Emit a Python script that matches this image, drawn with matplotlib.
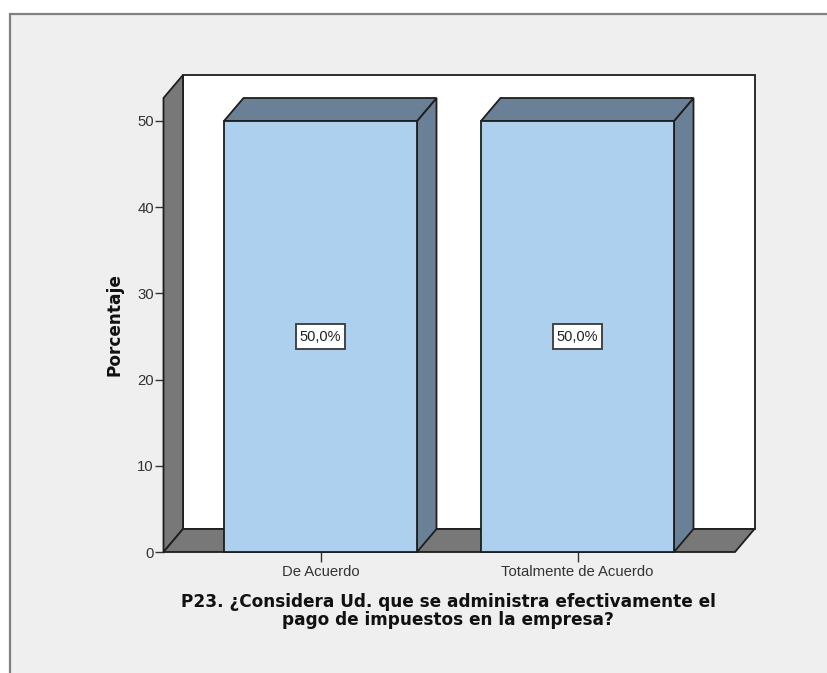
import matplotlib
matplotlib.use("Agg")
import matplotlib.pyplot as plt
from matplotlib.patches import Polygon, Rectangle

categories = ["De Acuerdo", "Totalmente de Acuerdo"]
percentages = [50.0, 50.0]
value_labels = ["50,0%", "50,0%"]
y_ticks = [0, 10, 20, 30, 40, 50]
x_title = "P23. ¿Considera Ud. que se administra efectivamente el\npago de impuestos en la empresa?"
y_title = "Porcentaje"

W, H = 827, 673
plt.rcParams["font.family"] = ["Liberation Sans", "DejaVu Sans"]
fig = plt.figure(figsize=(W / 100, H / 100), dpi=100, facecolor="white")

# outer panel
fig.add_artist(Rectangle((9.5 / W, -0.05), 1.1, (H - 13.5) / H + 0.05, transform=fig.transFigure,
                         facecolor="#efefef", edgecolor="#808080", linewidth=1.6, zorder=-1))

# axes = front plane of the 3D box
L, R, B, T = 163.5, 735, 552, 98
ax = fig.add_axes([L / W, 1 - B / H, (R - L) / W, (B - T) / H])
px_x = 257.0
px_y = 8.62
ax.set_xlim((L - 320.5) / px_x, (R - 320.5) / px_x)
ax.set_ylim(0, (B - T) / px_y)
ax.patch.set_visible(False)
for s in ax.spines.values():
    s.set_visible(False)

dx = 19.5 / px_x
dy = 23.0 / px_y
x0, x1 = ax.get_xlim()
y0, y1 = ax.get_ylim()
edge = "#1e1e1e"
lw = 1.3
wall = "#787878"
side = "#6a8096"
front = "#acd0ee"


def poly(pts, fc, z):
    ax.add_patch(Polygon(pts, closed=True, facecolor=fc, edgecolor=edge, linewidth=lw,
                         joinstyle="miter", clip_on=False, zorder=z))


poly([(x0 + dx, y0 + dy), (x1 + dx, y0 + dy), (x1 + dx, y1 + dy), (x0 + dx, y1 + dy)], "white", 1)
poly([(x0, y0), (x0 + dx, y0 + dy), (x0 + dx, y1 + dy), (x0, y1)], wall, 2)
poly([(x0, y0), (x1, y0), (x1 + dx, y0 + dy), (x0 + dx, y0 + dy)], wall, 2)

width = 0.751
box_w = 49 / px_x
box_h = 25 / px_y
for i, (v, lab) in enumerate(zip(percentages, value_labels)):
    a, b = i - width / 2, i + width / 2
    poly([(b, 0), (b + dx, dy), (b + dx, v + dy), (b, v)], side, 3)
    poly([(a, v), (b, v), (b + dx, v + dy), (a + dx, v + dy)], side, 3)
    ax.bar(i, v, width=width, color=front, edgecolor=edge, linewidth=lw, zorder=4, clip_on=False)
    ax.add_patch(Rectangle((i - box_w / 2, v / 2 - box_h / 2), box_w, box_h, facecolor="white",
                           edgecolor="#444444", linewidth=1.4, zorder=5))
    ax.text(i, v / 2 - 0.1, lab, ha="center", va="center", fontsize=10.5, color="#222222", zorder=6)

ax.set_xticks(range(len(categories)))
ax.set_xticklabels(categories)
ax.set_yticks(y_ticks)
ax.tick_params(axis="x", length=7, width=1, color="#333333", labelsize=10.7, labelcolor="#333333", pad=2.5)
ax.tick_params(axis="y", length=6.5, width=1, color="#333333", labelsize=10.7, labelcolor="#333333", pad=0.5)

fig.text(448 / W, 1 - 611 / H, x_title, ha="center", va="center", fontsize=12.2, fontweight="bold",
         color="#111111", linespacing=1.02, family=["DejaVu Sans"])
fig.text(115 / W, 1 - 325 / H, y_title, ha="center", va="center", rotation=90, fontsize=12.2,
         fontweight="bold", color="#111111", family=["DejaVu Sans"])

fig.savefig("out.png", dpi=100, facecolor="white")
